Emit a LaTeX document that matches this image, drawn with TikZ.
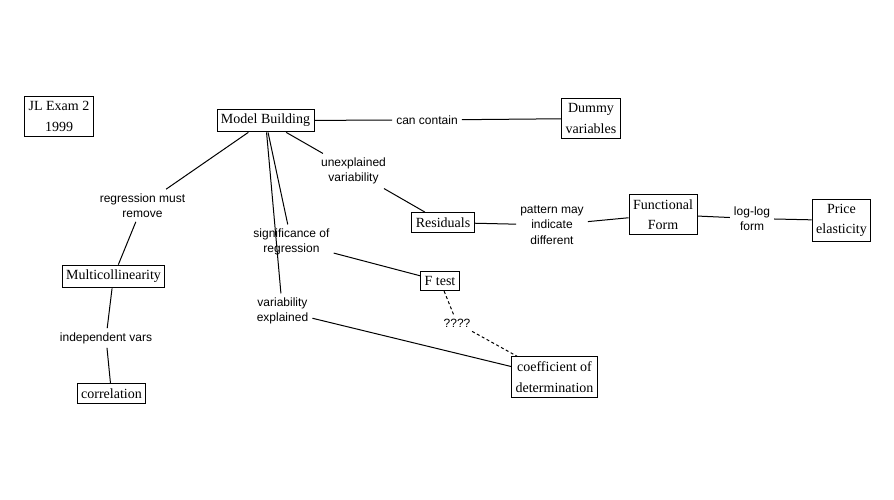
\documentclass[tikz,border=0pt]{standalone}
\usepackage{fontspec}
\setmainfont{Liberation Serif}
\newfontfamily\labfont{Liberation Sans}
\begin{document}
\begin{tikzpicture}[x=1pt,y=-1pt,
  concept/.style={draw=black,line width=0.9pt,fill=white,align=center,
    font=\fontsize{14}{20.5}\selectfont,inner xsep=4pt,inner ysep=5pt,outer sep=0.5pt},
  linklabel/.style={align=center,font=\labfont\fontsize{12}{15.5}\selectfont,inner sep=4pt},
  link/.style={line width=1pt,black},
  dlink/.style={line width=1pt,black,dash pattern=on 3pt off 2.5pt}]
\path[use as bounding box,fill=white] (0,0) rectangle (894,500);

% concepts
\node[concept] (jl) at (59,116.5) {JL Exam 2\\1999};
\node[concept] (mb) at (265.5,120.5) {Model Building};
\node[concept] (dummy) at (591,118.5) {Dummy\\variables};
\node[concept] (resid) at (443,222.5) {Residuals};
\node[concept] (func) at (663,214.5) {Functional\\Form};
\node[concept] (price) at (841.5,220.5) {Price\\elasticity};
\node[concept] (multi) at (113.5,276.5) {Multicollinearity};
\node[concept] (corr) at (111.5,393.5) {correlation};
\node[concept] (ftest) at (440,281) {F test};
\node[concept] (coef) at (554.5,377) {coefficient of\\determination};

% link labels
\node[linklabel] (cancontain) at (427,120) {can contain};
\node[linklabel] (unexp) at (353.5,171) {unexplained\\variability};
\node[linklabel] (pattern) at (552,225) {pattern may\\indicate\\different};
\node[linklabel] (loglog) at (752,218.5) {log-log\\form};
\node[linklabel] (regmust) at (142.5,205.5) {regression must\\remove};
\node[linklabel] (indep) at (106,338) {independent vars};
\node[linklabel] (signif) at (291.5,242) {significance of\\regression};
\node[linklabel] (varexp) at (282.5,311) {variability\\explained};
\node[linklabel] (qq) at (457,323) {????};

% connectors
\draw[link] (mb) -- (cancontain);
\draw[link] (cancontain) -- (dummy);
\draw[link] (mb) -- (unexp);
\draw[link] (unexp) -- (resid);
\draw[link] (resid) -- (pattern);
\draw[link] (pattern) -- (func);
\draw[link] (func) -- (loglog);
\draw[link] (loglog) -- (price);
\draw[link] (mb) -- (regmust);
\draw[link] (regmust) -- (multi);
\draw[link] (multi) -- (indep);
\draw[link] (indep) -- (corr);
\draw[link] (mb) -- (signif);
\draw[link] (signif) -- (ftest);
\draw[link] (mb) -- (varexp);
\draw[link] (varexp) -- (coef);
\draw[dlink] (ftest) -- (qq);
\draw[dlink] (qq) -- (coef);
\end{tikzpicture}
\end{document}
